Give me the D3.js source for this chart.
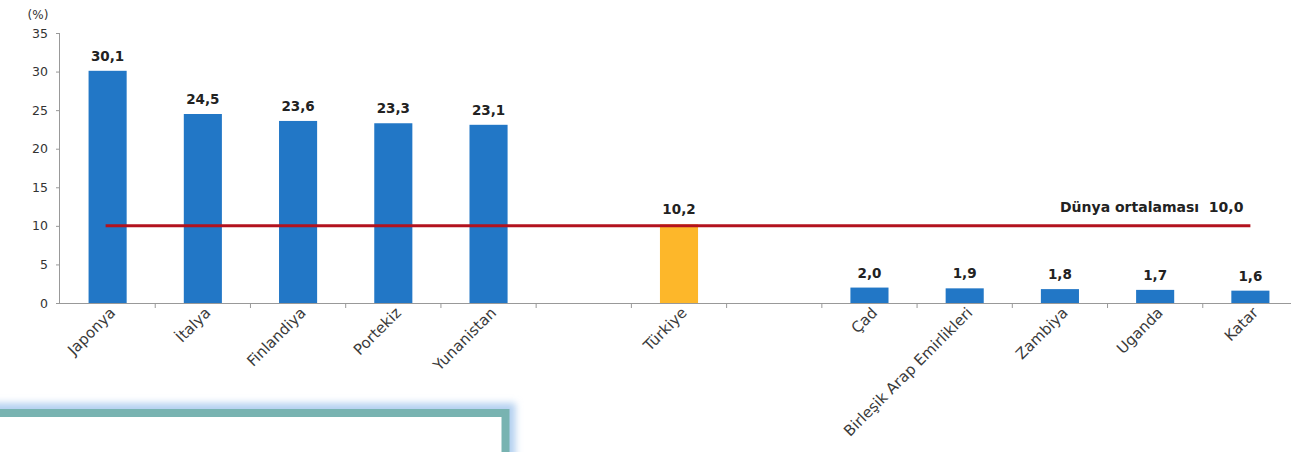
<!DOCTYPE html>
<html>
<head>
<meta charset="utf-8">
<script src="https://cdn.jsdelivr.net/npm/d3@7"></script>
<style>
  html, body { margin: 0; padding: 0; background: #fff; }
  svg { display: block; }
</style>
</head>
<body>
<svg id="chart" width="1291" height="452"></svg>
<script>
// ---- data ----
const categories = ["Japonya", "İtalya", "Finlandiya", "Portekiz", "Yunanistan", "", "Türkiye", "", "Çad", "Birleşik Arap Emirlikleri", "Zambiya", "Uganda", "Katar"];
const values = [30.1, 24.5, 23.6, 23.3, 23.1, null, 10.2, null, 2.0, 1.9, 1.8, 1.7, 1.6];
const valueLabels = ["30,1", "24,5", "23,6", "23,3", "23,1", "", "10,2", "", "2,0", "1,9", "1,8", "1,7", "1,6"];
const highlight = "Türkiye";
const worldAverage = 10.0;
const worldAverageLabel = "Dünya ortalaması  10,0";
const yTicks = [0, 5, 10, 15, 20, 25, 30, 35];
const yUnit = "(%)";

// ---- layout ----
const svg = d3.select("#chart");
const W = 1291, H = 452;
const x0 = 60, x1 = 1298, yTop = 33, yBottom = 303;

const idx = d3.range(categories.length);
const x = d3.scaleBand().domain(idx).range([x0, x1]).paddingInner(0.6).paddingOuter(0.3);
const xb = d3.scaleBand().domain(idx).range([x0, x1]); // slot boundaries
const y = d3.scaleLinear().domain([0, 35]).range([yBottom, yTop]);

const font = "'DejaVu Sans', sans-serif";

// bottom-left box with glow
const defs = svg.append("defs");
const f = defs.append("filter").attr("id", "glow").attr("x", "-20%").attr("y", "-50%").attr("width", "140%").attr("height", "200%");
f.append("feGaussianBlur").attr("stdDeviation", 3.5);

svg.append("rect")
  .attr("x", -40).attr("y", 413).attr("width", 545.5).attr("height", 80)
  .attr("fill", "none").attr("stroke", "#b4d0f0").attr("stroke-width", 20)
  .attr("filter", "url(#glow)");
svg.append("rect")
  .attr("x", -40).attr("y", 413).attr("width", 545.5).attr("height", 80)
  .attr("fill", "#fff").attr("stroke", "#78b3b1").attr("stroke-width", 8);

// y axis
const yAxis = d3.axisLeft(y).tickValues(yTicks).tickSize(4).tickFormat(d3.format("d"));
const gy = svg.append("g").attr("transform", `translate(${x0},0)`).call(yAxis);
gy.select(".domain").attr("stroke", "#999").attr("d", `M-0.5,${yBottom}V${yTop}`);
gy.selectAll(".tick line").attr("stroke", "#999");
gy.selectAll(".tick text").attr("font-family", font).attr("font-size", 12.5).attr("fill", "#333").attr("x", -12);

svg.append("text").attr("x", 38).attr("y", 19).attr("text-anchor", "middle")
  .attr("font-family", font).attr("font-size", 12).attr("fill", "#333").text(yUnit);

// x axis
svg.append("line").attr("x1", x0).attr("x2", W).attr("y1", yBottom + 0.5).attr("y2", yBottom + 0.5)
  .attr("stroke", "#999");
svg.append("g").selectAll("line").data(idx.slice(1)).join("line")
  .attr("x1", d => xb(d)).attr("x2", d => xb(d))
  .attr("y1", yBottom).attr("y2", yBottom + 5).attr("stroke", "#999");

// bars
svg.append("g").selectAll("rect").data(idx.filter(i => values[i] != null)).join("rect")
  .attr("x", i => x(i)).attr("width", x.bandwidth())
  .attr("y", i => y(values[i])).attr("height", i => y(0) - y(values[i]))
  .attr("fill", i => categories[i] === highlight ? "#fdb72a" : "#2277c6");

// value labels
svg.append("g").selectAll("text").data(idx.filter(i => values[i] != null)).join("text")
  .attr("x", i => x(i) + x.bandwidth() / 2).attr("y", i => y(values[i]) - 10)
  .attr("text-anchor", "middle").attr("font-family", font).attr("font-weight", "bold")
  .attr("font-size", 13.5).attr("fill", "#222").text(i => valueLabels[i]);

// category labels
svg.append("g").selectAll("text").data(idx.filter(i => categories[i] !== "")).join("text")
  .attr("transform", i => `translate(${x(i) + x.bandwidth() / 2 + 5},${yBottom + 7}) rotate(-45)`)
  .attr("text-anchor", "end").attr("dy", "0.35em")
  .attr("font-family", font).attr("font-size", 15).attr("fill", "#3a3a3a")
  .text(i => categories[i]);

// world average line
const cFirst = x(0) + x.bandwidth() / 2, cLast = x(categories.length - 1) + x.bandwidth() / 2;
svg.append("line").attr("x1", cFirst - 2).attr("x2", cLast).attr("y1", y(worldAverage)).attr("y2", y(worldAverage))
  .attr("stroke", "#b3121e").attr("stroke-width", 3);
svg.append("text").attr("x", cLast - 7).attr("y", y(worldAverage) - 14).attr("text-anchor", "end")
  .attr("xml:space", "preserve").style("white-space", "pre")
  .attr("font-family", font).attr("font-weight", "bold").attr("font-size", 14).attr("fill", "#222")
  .text(worldAverageLabel);
</script>
</body>
</html>
